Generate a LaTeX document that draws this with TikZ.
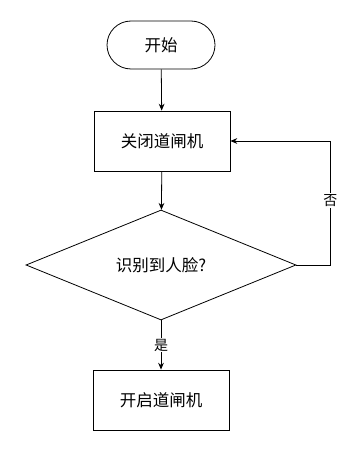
\documentclass[tikz,border=0pt]{standalone}
\usepackage{fontspec}
\setmainfont{Noto Sans CJK SC}
\usepackage{tikz}
\usetikzlibrary{arrows.meta, positioning, shapes.geometric}

\begin{document}
\begin{tikzpicture}[
  x=1pt, y=-1pt, font=\fontsize{16.5}{19}\selectfont, >={Stealth[length=2.4mm, width=2mm]},
  term/.style={draw, rounded corners=24pt, minimum width=108pt, minimum height=48pt, inner sep=0pt},
  proc/.style={draw, minimum width=136pt, minimum height=60pt, inner sep=0pt},
  cond/.style={draw, diamond, minimum width=270pt, minimum height=110pt, inner sep=0pt},
  lbl/.style={fill=white, inner sep=1pt, font=\fontsize{14}{16}\selectfont},
  ar/.style={->, line width=0.8pt, black},
]
\useasboundingbox (0,0) rectangle (348,468);
\node[term, line width=0.8pt] (start) at (161,45)  {开始};
\node[proc, line width=0.8pt] (close) at (162,141) {关闭道闸机};
\node[cond, line width=0.8pt] (face)  at (161,265) {识别到人脸?};
\node[proc, line width=0.8pt] (open)  at (161,400) {开启道闸机};
\draw[ar] (start) -- (close); \draw[ar] (close) -- (face);
\draw[ar] (face) -- node[lbl] {是} (open);
\draw[ar] (face.east) -- ++(34,0) |- node[lbl, pos=0.26] {否} (close.east);
\end{tikzpicture}
\end{document}
